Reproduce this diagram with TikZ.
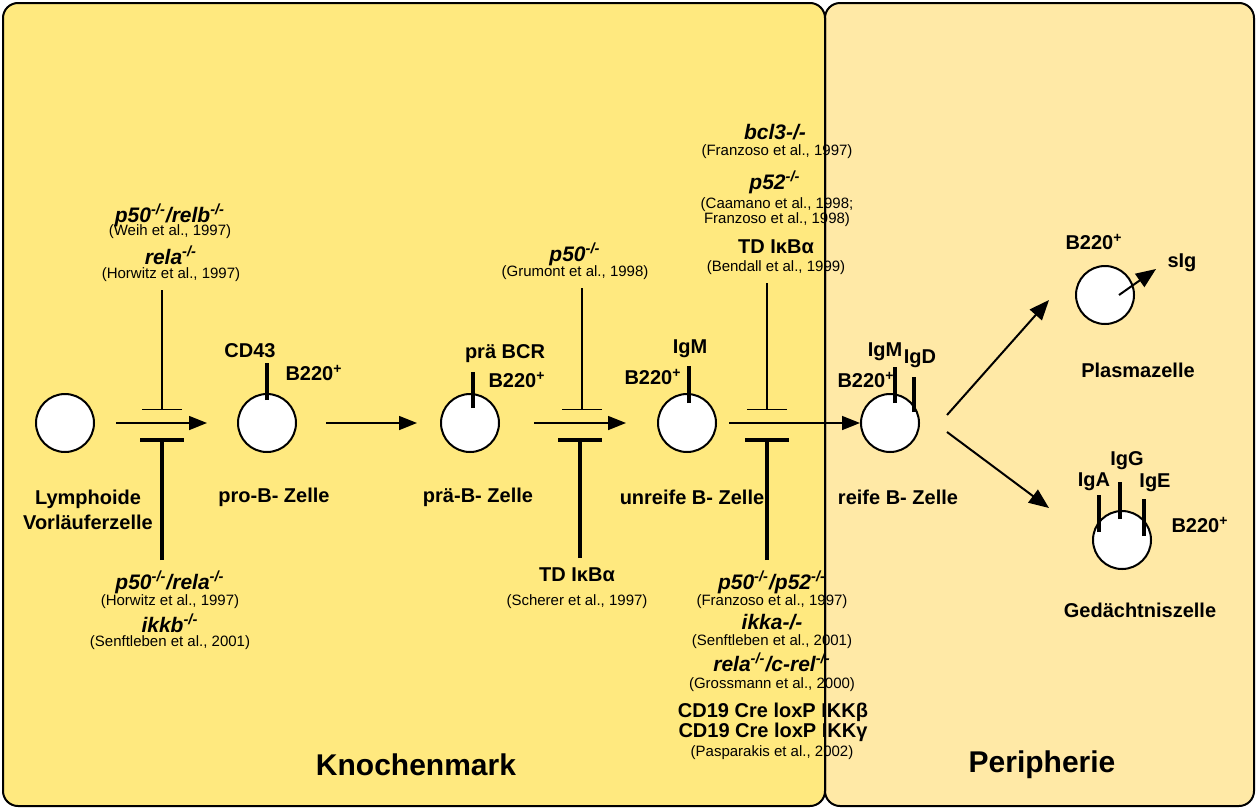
\documentclass[tikz,border=0pt]{standalone}
\usepackage{fontspec}
\setmainfont{Liberation Sans}
\usetikzlibrary{arrows.meta}

\definecolor{markgelb}{RGB}{255,233,127}
\definecolor{perigelb}{RGB}{255,233,166}

\newcommand{\ko}{\textsuperscript{-/-}}
\newcommand{\pos}{\textsuperscript{+}}

\tikzset{
	zelle/.style={circle, draw, line width=1pt, fill=white, minimum size=29pt, inner sep=0pt},
	lbl/.style={font=\fontsize{10}{12.5}\selectfont\bfseries, align=center, inner sep=1pt},
	gen/.style={font=\fontsize{10.5}{12}\selectfont\bfseries\itshape, inner sep=1pt},
	zitat/.style={font=\fontsize{7.5}{7.5}\selectfont, align=center, inner sep=1pt},
	bereich/.style={font=\fontsize{15}{18}\selectfont\bfseries},
	pfeil/.style={line width=0.75pt, -{Triangle[length=9pt, width=7pt]}},
	pfeilgross/.style={line width=1pt, -{Triangle[length=10pt, width=8pt]}},
	hemmduenn/.style={line width=0.6pt, -{Bar[width=20pt]}, shorten <=3pt},
	hemmdick/.style={line width=2pt, -{Bar[width=22pt]}, shorten <=4pt},
	stiel/.style={line width=2pt},
}

\begin{document}
\begin{tikzpicture}[x=0.5pt, y=-0.5pt]
	\useasboundingbox (0, 0) rectangle (1257, 809);

	%% compartments
	\draw[line width=1pt, fill=perigelb, rounded corners=7.5pt] (825, 3) rectangle (1254, 806);
	\draw[line width=1pt, fill=markgelb, rounded corners=7.5pt] (3, 3) rectangle (825, 806);

	\node[bereich] (km) at (416, 765) {Knochenmark};
	\node[bereich] (pe) at (1042, 765) {Peripherie};

	%% cells
	\node[zelle] (lym) at (65, 423) {};
	\node[zelle] (prob) at (267, 423) {};
	\node[zelle] (praeb) at (470, 423) {};
	\node[zelle] (unreif) at (687, 423) {};
	\node[zelle] (reif) at (890, 423) {};
	\node[zelle] (plasma) at (1105, 295) {};
	\node[zelle] (gedaecht) at (1122, 540) {};

	%% cell names
	\node[lbl] (nlym) at (88, 510) {Lymphoide\\Vorläuferzelle};
	\node[lbl] (nprob) at (274, 497) {pro-B- Zelle};
	\node[lbl] (npraeb) at (478, 497) {prä-B- Zelle};
	\node[lbl] (nunreif) at (692, 497) {unreife B- Zelle};
	\node[lbl] (nreif) at (898, 497) {reife B- Zelle};
	\node[lbl] (nplasma) at (1138, 370) {Plasmazelle};
	\node[lbl] (ngedaecht) at (1140, 610) {Gedächtniszelle};

	%% surface markers
	\draw[stiel] ([shift={(0, -23)}]prob.center) -- ++(0, -37);
	\node[lbl] (cd43) at (250, 351) {CD43};
	\node[lbl] (b220a) at (314, 373) {B220\pos};

	\draw[stiel] ([shift={(3, -15)}]praeb.center) -- ++(0, -36);
	\node[lbl] (bcr) at (505, 354) {prä BCR};
	\node[lbl] (b220b) at (517, 380) {B220\pos};

	\draw[stiel] ([shift={(2, -20)}]unreif.center) -- ++(0, -37);
	\node[lbl] (igma) at (690, 349) {IgM};
	\node[lbl] (b220c) at (653, 377) {B220\pos};

	\draw[stiel] ([shift={(5, -20)}]reif.center) -- ++(0, -36);
	\draw[stiel] ([shift={(24, -11)}]reif.center) -- ++(0, -35);
	\node[lbl] (igmb) at (885, 352) {IgM};
	\node[lbl] (igd) at (920, 359) {IgD};
	\node[lbl] (b220d) at (866, 380) {B220\pos};

	\node[lbl] (b220e) at (1094, 242) {B220\pos};
	\node[lbl] (sig) at (1182, 263) {sIg};
	\draw[pfeilgross] ([xshift=7pt]plasma.center) -- ++(37, -26);

	\draw[stiel] ([shift={(-23, -8)}]gedaecht.center) -- ++(0, -37);
	\draw[stiel] ([shift={(-2, -21)}]gedaecht.center) -- ++(0, -37);
	\draw[stiel] ([shift={(22, -4)}]gedaecht.center) -- ++(0, -37);
	\node[lbl] (iga) at (1094, 482) {IgA};
	\node[lbl] (igg) at (1127, 461) {IgG};
	\node[lbl] (ige) at (1155, 483) {IgE};
	\node[lbl] (b220f) at (1200, 525) {B220\pos};

	%% development arrows
	\draw[pfeil, shorten <=10.5pt, shorten >=15pt] (lym) -- (prob);
	\draw[pfeil, shorten <=14.5pt, shorten >=11.5pt] (prob) -- (praeb);
	\draw[pfeil, shorten <=17pt, shorten >=15.5pt] (praeb) -- (unreif);
	\draw[pfeil, shorten <=6pt] (unreif) -- (reif);

	\coordinate (abzw1) at (947, 415);
	\coordinate (abzw2) at (947, 432);
	\coordinate (ziel1) at (1049, 300);
	\coordinate (ziel2) at (1049, 508);
	\draw[pfeilgross] (abzw1) -- (ziel1);
	\draw[pfeilgross] (abzw2) -- (ziel2);

	%% knockouts, step 1
	\node[gen] (g1a) at (170, 215) {p50\ko/relb\ko};
	\node[zitat] (z1a) at (170, 232) {(Weih et al., 1997)};
	\node[gen] (g1b) at (171, 255) {rela\ko};
	\node[zitat] (z1b) at (171, 275) {(Horwitz et al., 1997)};

	\node[gen] (g1c) at (170, 582) {p50\ko/rela\ko};
	\node[zitat] (z1c) at (170, 602) {(Horwitz et al., 1997)};
	\node[gen] (g1d) at (170, 623) {ikkb\ko};
	\node[zitat] (z1d) at (170, 643) {(Senftleben et al., 2001)};

	\coordinate (b1o) at (162, 410);
	\coordinate (b1u) at (162, 438);
	\draw[hemmduenn] (z1b.south -| b1o) -- (b1o);
	\draw[hemmdick] (g1c.north -| b1u) -- (b1u);

	%% knockouts, step 3
	\node[gen] (g3a) at (575, 254) {p50\ko};
	\node[zitat] (z3a) at (575, 273) {(Grumont et al., 1998)};
	\node[lbl] (g3b) at (577, 575) {TD IκBα};
	\node[zitat] (z3b) at (577, 602) {(Scherer et al., 1997)};

	\coordinate (b3o) at (582, 410);
	\coordinate (b3u) at (580, 438);
	\draw[hemmduenn] (z3a.south -| b3o) -- (b3o);
	\draw[hemmdick] (g3b.north -| b3u) -- (b3u);

	%% knockouts, step 4
	\node[gen] (g4a) at (775, 132) {bcl3-/-};
	\node[zitat] (z4a) at (777, 152) {(Franzoso et al., 1997)};
	\node[gen] (g4b) at (775, 182) {p52\ko};
	\node[zitat] (z4b) at (777, 212) {(Caamano et al., 1998;\\Franzoso et al., 1998)};
	\node[lbl] (g4c) at (776, 247) {TD IκBα};
	\node[zitat] (z4c) at (776, 268) {(Bendall et al., 1999)};

	\node[gen] (g4d) at (772, 582) {p50\ko/p52\ko};
	\node[zitat] (z4d) at (772, 602) {(Franzoso et al., 1997)};
	\node[gen] (g4e) at (772, 622) {ikka-/-};
	\node[zitat] (z4e) at (772, 642) {(Senftleben et al., 2001)};
	\node[gen] (g4f) at (772, 662) {rela\ko/c-rel\ko};
	\node[zitat] (z4f) at (772, 685) {(Grossmann et al., 2000)};
	\node[lbl] (g4g) at (773, 712) {CD19 Cre loxP IKKβ};
	\node[lbl] (g4h) at (773, 732) {CD19 Cre loxP IKKγ};
	\node[zitat] (z4h) at (772, 753) {(Pasparakis et al., 2002)};

	\coordinate (b4o) at (767, 410);
	\coordinate (b4u) at (767, 438);
	\draw[hemmduenn] (z4c.south -| b4o) -- (b4o);
	\draw[hemmdick] (g4d.north -| b4u) -- (b4u);
\end{tikzpicture}
\end{document}
